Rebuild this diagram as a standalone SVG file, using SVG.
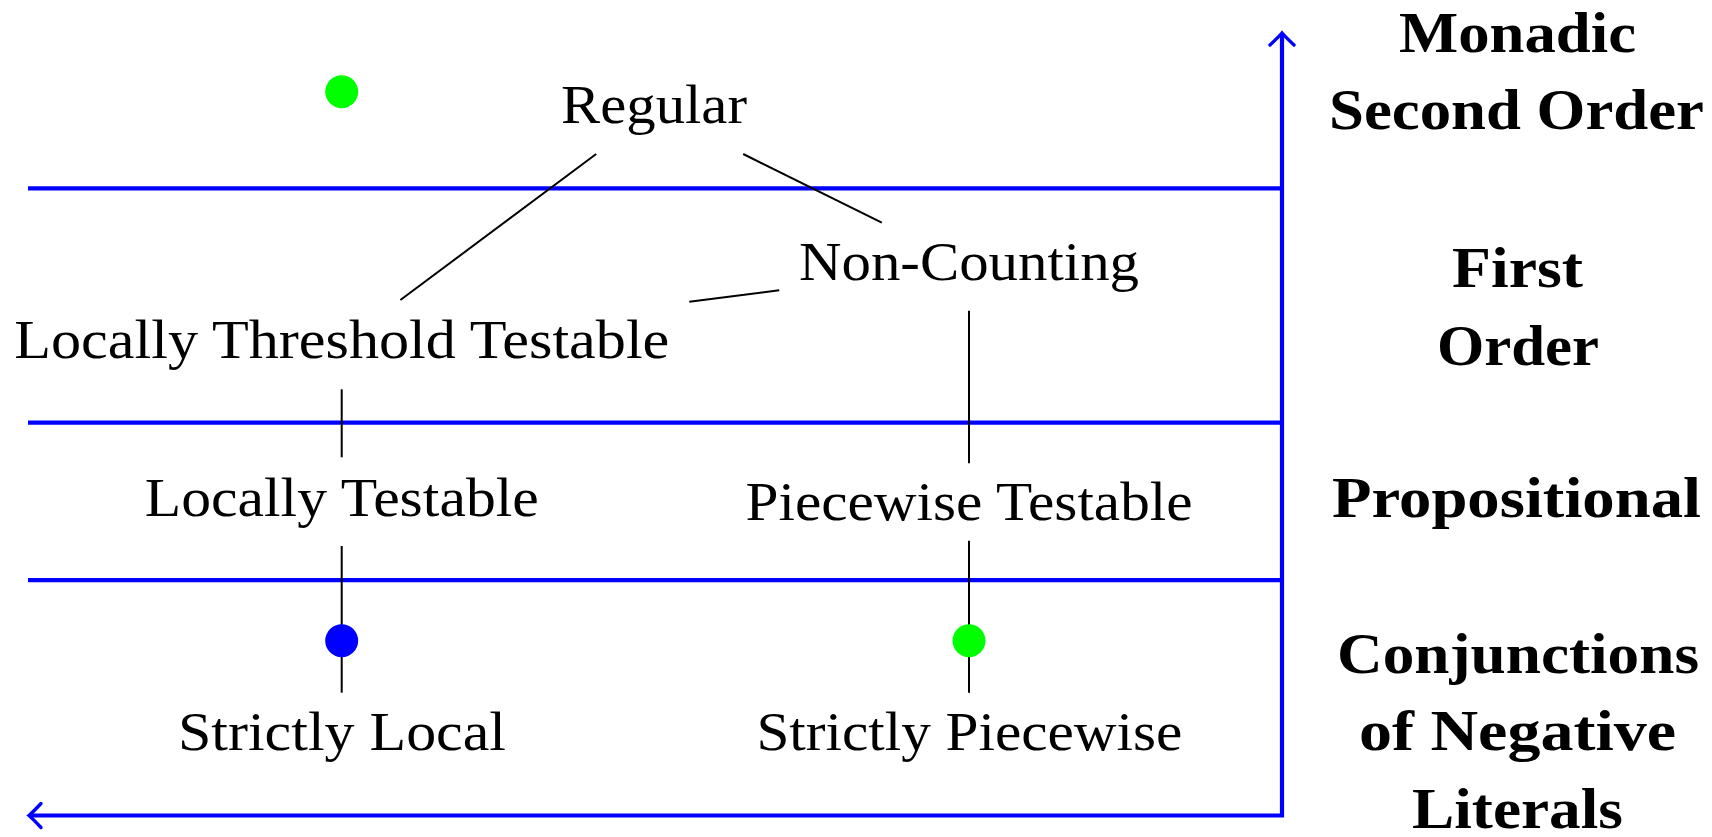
<svg xmlns="http://www.w3.org/2000/svg" width="1712" height="837" viewBox="0 0 1712 837">
  <style>
    .band { stroke: #0000ff; stroke-width: 4.2; fill: none; }
    .edge { stroke: #000; stroke-width: 2; fill: none; }
    .cls { font-family: "Liberation Serif", "DejaVu Serif", serif; font-size: 54px; fill: #000; text-anchor: middle; }
    .lvl { font-family: "Liberation Serif", "DejaVu Serif", serif; font-size: 57px; font-weight: bold; fill: #000; text-anchor: middle; }
    .dot-g { fill: #00ff00; }
    .dot-b { fill: #0000ff; }
  </style>
  <defs>
    <marker id="to" markerUnits="userSpaceOnUse" markerWidth="30" markerHeight="30" viewBox="-15 -15 30 30" refX="0" refY="0" orient="auto-start-reverse" overflow="visible">
      <path d="M -12 -12 Q -3 -2.5 0 0 Q -3 2.5 -12 12" stroke="#0000ff" stroke-width="3.4" fill="none" stroke-linecap="round"/>
    </marker>
  </defs>

  <!-- level bands and axis -->
  <g id="bands">
    <line class="band" x1="28" y1="188.3" x2="1282" y2="188.3"/>
    <line class="band" x1="28" y1="422.6" x2="1282" y2="422.6"/>
    <line class="band" x1="28" y1="580.2" x2="1282" y2="580.2"/>
    <path class="band" d="M 29 815.5 L 1282 815.5 L 1282 33" marker-start="url(#to)" marker-end="url(#to)"/>
  </g>

  <!-- inclusion connectors -->
  <g id="connectors">
    <line class="edge" x1="596.2" y1="154" x2="400.4" y2="300"/>
    <line class="edge" x1="743.2" y1="154" x2="881.8" y2="222.7"/>
    <line class="edge" x1="779.2" y1="290.3" x2="689.3" y2="301.7"/>
    <line class="edge" x1="341.7" y1="389.3" x2="341.7" y2="457.3"/>
    <line class="edge" x1="969" y1="310.7" x2="969" y2="463.3"/>
    <line class="edge" x1="341.7" y1="546" x2="341.7" y2="692.7"/>
    <line class="edge" x1="969" y1="540.7" x2="969" y2="692.7"/>
  </g>

  <!-- class nodes -->
  <g id="node-regular"><text class="cls" x="654" y="123.3" textLength="186" lengthAdjust="spacingAndGlyphs">Regular</text></g>
  <g id="node-noncounting"><text class="cls" x="969" y="280" textLength="340" lengthAdjust="spacingAndGlyphs">Non-Counting</text></g>
  <g id="node-ltt"><text class="cls" x="341.8" y="358.3" textLength="655" lengthAdjust="spacingAndGlyphs">Locally Threshold Testable</text></g>
  <g id="node-lt"><text class="cls" x="341.8" y="516" textLength="394" lengthAdjust="spacingAndGlyphs">Locally Testable</text></g>
  <g id="node-pt"><text class="cls" x="969" y="520" textLength="447" lengthAdjust="spacingAndGlyphs">Piecewise Testable</text></g>
  <g id="node-sl"><text class="cls" x="342" y="750" textLength="328" lengthAdjust="spacingAndGlyphs">Strictly Local</text></g>
  <g id="node-sp"><text class="cls" x="969.4" y="750" textLength="426" lengthAdjust="spacingAndGlyphs">Strictly Piecewise</text></g>

  <!-- markers on classes -->
  <g id="dot-top"><circle class="dot-g" cx="341.7" cy="91.7" r="16.5"/></g>
  <g id="dot-sl"><circle class="dot-b" cx="341.7" cy="640.7" r="16.5"/></g>
  <g id="dot-sp"><circle class="dot-g" cx="969" cy="640.7" r="16.5"/></g>

  <!-- logic level labels -->
  <g id="level-mso">
    <text class="lvl" x="1517.5" y="51.7" textLength="237" lengthAdjust="spacingAndGlyphs">Monadic</text>
    <text class="lvl" x="1516.5" y="129.3" textLength="375" lengthAdjust="spacingAndGlyphs">Second Order</text>
  </g>
  <g id="level-fo">
    <text class="lvl" x="1517.5" y="286.7" textLength="131" lengthAdjust="spacingAndGlyphs">First</text>
    <text class="lvl" x="1518" y="365" textLength="162" lengthAdjust="spacingAndGlyphs">Order</text>
  </g>
  <g id="level-prop">
    <text class="lvl" x="1516.5" y="516.7" textLength="369" lengthAdjust="spacingAndGlyphs">Propositional</text>
  </g>
  <g id="level-cnl">
    <text class="lvl" x="1518" y="673.3" textLength="362" lengthAdjust="spacingAndGlyphs">Conjunctions</text>
    <text class="lvl" x="1517.5" y="750" textLength="317" lengthAdjust="spacingAndGlyphs">of Negative</text>
    <text class="lvl" x="1517.5" y="828" textLength="211" lengthAdjust="spacingAndGlyphs">Literals</text>
  </g>
</svg>
